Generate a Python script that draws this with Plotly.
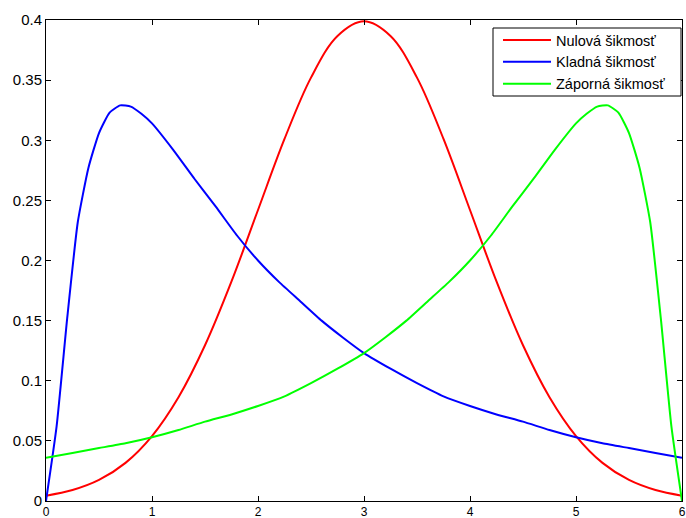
import plotly.graph_objects as go

# Nulová šikmosť (red)
x_red = [0.0, 0.25, 0.5, 0.75, 1.0, 1.25, 1.5, 1.75, 2.0, 2.25, 2.5, 2.75, 3.0,
         3.25, 3.5, 3.75, 4.0, 4.25, 4.5, 4.75, 5.0, 5.25, 5.5, 5.75, 6.0]
y_red = [0.0044, 0.0091, 0.0175, 0.0317, 0.0540, 0.0863, 0.1295, 0.1826, 0.2420,
         0.3011, 0.3521, 0.3867, 0.3989, 0.3867, 0.3521, 0.3011, 0.2420, 0.1826,
         0.1295, 0.0863, 0.0540, 0.0317, 0.0175, 0.0091, 0.0044]

# Kladná šikmosť (blue)
x_blue = [0.0, 0.1, 0.2, 0.3, 0.4, 0.5, 0.6, 0.7, 0.8, 0.9, 1.0, 1.2, 1.4, 1.6, 1.8,
          2.0, 2.2, 2.4, 2.6, 2.8, 3.0, 3.25, 3.5, 3.75, 4.0, 4.25, 4.5, 4.75,
          5.0, 5.25, 5.5, 5.75, 6.0]
y_blue = [0.000, 0.062, 0.152, 0.232, 0.277, 0.306, 0.323, 0.329, 0.328, 0.322,
          0.314, 0.292, 0.268, 0.245, 0.221, 0.200, 0.182, 0.166, 0.150, 0.136,
          0.123, 0.110, 0.098, 0.087, 0.079, 0.072, 0.066, 0.059, 0.053, 0.048,
          0.044, 0.040, 0.036]

# Záporná šikmosť (green)
x_green = [0.0, 0.25, 0.5, 0.75, 1.0, 1.25, 1.5, 1.75, 2.0, 2.25, 2.5, 2.75, 3.0,
           3.2, 3.4, 3.6, 3.8, 4.0, 4.2, 4.4, 4.6, 4.8, 5.0, 5.1, 5.2, 5.3, 5.4,
           5.5, 5.6, 5.7, 5.8, 5.9, 6.0]
y_green = [0.036, 0.040, 0.044, 0.048, 0.053, 0.059, 0.066, 0.072, 0.079, 0.087,
           0.098, 0.110, 0.123, 0.136, 0.150, 0.166, 0.182, 0.200, 0.221, 0.245,
           0.268, 0.292, 0.314, 0.322, 0.328, 0.329, 0.323, 0.306, 0.277, 0.232,
           0.152, 0.062, 0.000]

x_ticks = [0, 1, 2, 3, 4, 5, 6]
y_ticks = [0, 0.05, 0.1, 0.15, 0.2, 0.25, 0.3, 0.35, 0.4]
y_tick_labels = ["0", "0.05", "0.1", "0.15", "0.2", "0.25", "0.3", "0.35", "0.4"]

fig = go.Figure()
fig.add_trace(go.Scatter(x=x_red, y=y_red, mode="lines", name="Nulová šikmosť",
                         line=dict(color="#FF0000", width=2, shape="spline", smoothing=1.0)))
fig.add_trace(go.Scatter(x=x_blue, y=y_blue, mode="lines", name="Kladná šikmosť",
                         line=dict(color="#0000FF", width=2, shape="spline", smoothing=0.5)))
fig.add_trace(go.Scatter(x=x_green, y=y_green, mode="lines", name="Záporná šikmosť",
                         line=dict(color="#00FF00", width=2, shape="spline", smoothing=0.5)))

axis_common = dict(showline=True, linecolor="#000000", linewidth=1, mirror="ticks",
                   ticks="inside", ticklen=5, tickcolor="#000000", showgrid=False,
                   zeroline=False, automargin=False)

fig.update_xaxes(range=[0, 6], tickvals=x_ticks, ticktext=[str(v) for v in x_ticks],
                 tickfont=dict(family="Liberation Sans", size=12, color="#000000"),
                 ticklabelstandoff=0, **axis_common)
fig.update_yaxes(range=[0, 0.4], tickvals=y_ticks, ticktext=y_tick_labels,
                 tickfont=dict(family="Liberation Sans", size=15, color="#000000"),
                 **axis_common)

# legend frame (drawn as a box in plot-area pixel geometry: 46..682 x, 20..501 y)
fig.add_shape(type="rect", xref="paper", yref="paper",
              x0=(493 - 46) / 636, x1=(681 - 46) / 636,
              y0=(501 - 96) / 481, y1=(501 - 28) / 481,
              line=dict(color="#000000", width=1), fillcolor="white", layer="above")

fig.update_layout(
    width=686, height=518,
    margin=dict(l=46, r=4, t=20, b=17, autoexpand=False),
    plot_bgcolor="white", paper_bgcolor="white",
    font=dict(family="Liberation Sans", size=15, color="#000000"),
    legend=dict(x=(671 - 46) / 636, y=(501 - 24) / 481, xanchor="right", yanchor="top",
                bgcolor="rgba(0,0,0,0)", borderwidth=0,
                font=dict(family="Liberation Sans", size=14.5, color="#000000"),
                itemwidth=48),
    showlegend=True,
)

fig.write_html("out.html")
